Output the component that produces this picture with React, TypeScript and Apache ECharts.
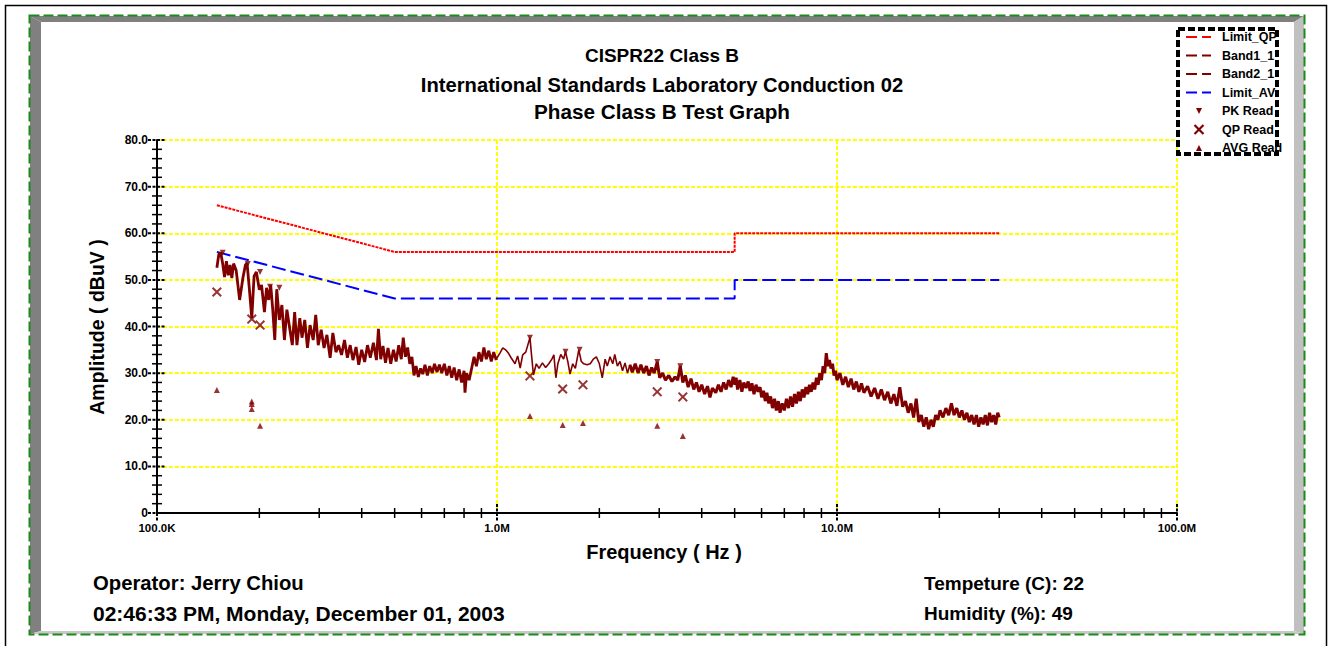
import React, { useEffect, useRef } from 'react';
import * as echarts from 'echarts';

const FONT = '"Liberation Sans", Arial, Helvetica, sans-serif';

const titleLines = ['CISPR22 Class B', 'International Standards Laboratory Conduction 02', 'Phase Class B Test Graph'];
const xAxisTitle = 'Frequency ( Hz )';
const yAxisTitle = 'Amplitude ( dBuV )';
const footerLeft = ['Operator: Jerry Chiou', '02:46:33 PM, Monday, December 01, 2003'];
const footerRight = ['Tempeture (C): 22', 'Humidity (%): 49'];

const xTickValues = [0.1, 1, 10, 100];
const xTickLabels = ['100.0K', '1.0M', '10.0M', '100.0M'];
const xMinorTicks = [0.2, 0.3, 0.4, 0.5, 0.6, 0.7, 0.8, 0.9, 2, 3, 4, 5, 6, 7, 8, 9, 20, 30, 40, 50, 60, 70, 80, 90];
const yTickValues = [0, 10, 20, 30, 40, 50, 60, 70, 80];
const yTickLabels = ['0', '10.0', '20.0', '30.0', '40.0', '50.0', '60.0', '70.0', '80.0'];
const yMinorTicks = [2, 4, 6, 8, 12, 14, 16, 18, 22, 24, 26, 28, 32, 34, 36, 38, 42, 44, 46, 48, 52, 54, 56, 58, 62, 64, 66, 68, 72, 74, 76, 78];

const legendNames = ['Limit_QP', 'Band1_1', 'Band2_1', 'Limit_AV', 'PK Read', 'QP Read', 'AVG Read'];

// frequency in MHz, amplitude in dBuV
const limitQP = [[0.15, 66], [0.5, 56], [5, 56], [5, 60], [30, 60]];
const limitAV = [[0.15, 56], [0.5, 46], [5, 46], [5, 50], [30, 50]];

const band1 = [
  [0.150, 52.6], [0.152, 55.5], [0.154, 55.8], [0.156, 53.5], [0.158, 50.6], [0.160, 54.0], [0.162, 51.0], [0.164, 53.2],
  [0.166, 50.4], [0.168, 53.5], [0.171, 52.0], [0.175, 45.7], [0.179, 50.5], [0.182, 53.2], [0.184, 53.6], [0.187, 47.9],
  [0.190, 41.8], [0.193, 50.8], [0.196, 51.7], [0.200, 47.9], [0.203, 48.9], [0.207, 43.1], [0.210, 48.3], [0.213, 45.7],
  [0.216, 48.9], [0.219, 43.6], [0.222, 37.1], [0.225, 48.0], [0.229, 41.4], [0.233, 44.6], [0.237, 37.1], [0.241, 43.6],
  [0.246, 39.3], [0.250, 36.0], [0.254, 43.1], [0.258, 36.0], [0.263, 41.8], [0.267, 37.6], [0.272, 41.4], [0.277, 35.4],
  [0.282, 40.3], [0.288, 37.1], [0.293, 42.5], [0.298, 36.0], [0.304, 39.3], [0.310, 35.4], [0.316, 38.2], [0.323, 33.3],
  [0.329, 38.6], [0.336, 34.5], [0.342, 36.0], [0.349, 33.9], [0.356, 37.1], [0.363, 33.3], [0.370, 36.0], [0.377, 32.8],
  [0.385, 35.6], [0.392, 31.8], [0.400, 35.0], [0.408, 32.4], [0.416, 36.0], [0.424, 33.3], [0.433, 36.5], [0.442, 32.8],
  [0.448, 39.5], [0.455, 33.0], [0.462, 35.8], [0.470, 32.2], [0.478, 35.4], [0.487, 32.0], [0.496, 35.0], [0.505, 32.5],
  [0.514, 36.0], [0.523, 33.0], [0.530, 37.6], [0.538, 33.5], [0.546, 35.5], [0.554, 32.0], [0.562, 33.5], [0.570, 29.5],
  [0.578, 31.5], [0.587, 29.2], [0.596, 31.0], [0.605, 29.8], [0.614, 31.8], [0.624, 29.5], [0.634, 31.5], [0.645, 30.0],
  [0.655, 32.0], [0.666, 30.2], [0.677, 31.8], [0.688, 30.0], [0.700, 32.0], [0.712, 29.5], [0.724, 31.5], [0.736, 29.0],
  [0.748, 31.2], [0.761, 28.5], [0.774, 30.8], [0.787, 28.0], [0.800, 30.5], [0.805, 25.8], [0.814, 30.0], [0.828, 28.5],
  [0.842, 31.0], [0.856, 33.5], [0.870, 31.5], [0.885, 34.5], [0.900, 32.5], [0.915, 35.5], [0.930, 33.0], [0.946, 34.8],
  [0.962, 32.5], [0.978, 34.5], [0.995, 32.8],
];

const band2Sweep = [
  [0.995, 32.8], [1.000, 33.3], [1.020, 34.3], [1.040, 35.4], [1.060, 35.0], [1.080, 34.3], [1.100, 33.3], [1.130, 32.0], [1.150, 33.7],
  [1.170, 31.1], [1.190, 33.9], [1.215, 34.5], [1.250, 37.6], [1.265, 33.5], [1.280, 29.6], [1.305, 32.0], [1.330, 31.0],
  [1.360, 32.2], [1.390, 31.2], [1.420, 32.0], [1.450, 33.0], [1.470, 33.9], [1.490, 29.0], [1.510, 32.0], [1.540, 34.0],
  [1.570, 33.0], [1.590, 34.6], [1.615, 32.5], [1.640, 29.8], [1.670, 32.0], [1.700, 31.0], [1.740, 35.0], [1.770, 32.5],
  [1.800, 32.0], [1.840, 31.8], [1.880, 32.0], [1.920, 33.0], [1.960, 33.5], [2.000, 32.0], [2.040, 29.0], [2.080, 33.0],
  [2.110, 31.5], [2.150, 33.5], [2.190, 32.0], [2.220, 34.0], [2.260, 31.5], [2.300, 32.5], [2.340, 30.5], [2.380, 32.2],
  [2.420, 30.0], [2.460, 31.8],
];

const band2Dense = [
  [2.460, 31.8], [2.500, 30.2], [2.550, 32.0], [2.600, 30.0], [2.650, 31.8], [2.700, 30.0], [2.750, 31.5],
  [2.800, 29.5], [2.850, 31.2], [2.900, 30.0], [2.960, 32.4], [3.010, 29.0], [3.070, 30.0], [3.130, 28.5], [3.200, 29.5],
  [3.270, 28.2], [3.340, 29.2], [3.400, 28.5], [3.460, 31.5], [3.520, 28.0], [3.580, 29.5], [3.650, 27.0], [3.720, 28.8],
  [3.790, 26.5], [3.860, 28.0], [3.930, 26.0], [4.000, 27.5], [4.080, 25.5], [4.160, 27.2], [4.230, 24.8], [4.300, 26.8],
  [4.400, 25.8], [4.480, 27.5], [4.560, 26.0], [4.640, 28.0], [4.720, 26.5], [4.800, 28.5], [4.880, 27.0], [4.950, 29.2],
  [5.010, 27.5], [5.050, 29.0], [5.100, 26.5], [5.180, 28.5], [5.250, 26.0], [5.320, 28.0], [5.400, 26.8], [5.480, 28.2],
  [5.550, 26.2], [5.620, 27.8], [5.700, 25.5], [5.780, 27.5], [5.860, 26.0], [5.940, 27.0], [6.000, 24.8], [6.080, 26.2],
  [6.150, 24.0], [6.220, 25.8], [6.300, 23.5], [6.380, 25.0], [6.460, 22.5], [6.550, 24.5], [6.630, 22.0], [6.720, 24.0],
  [6.800, 21.5], [6.900, 23.5], [7.000, 22.0], [7.100, 24.5], [7.200, 22.5], [7.300, 25.0], [7.400, 22.8], [7.500, 25.5],
  [7.600, 23.5], [7.700, 26.0], [7.800, 24.0], [7.900, 26.5], [8.000, 24.8], [8.100, 27.0], [8.200, 25.5], [8.300, 27.5],
  [8.400, 26.0], [8.500, 28.0], [8.600, 26.5], [8.700, 29.0], [8.800, 27.5], [8.900, 30.0], [9.000, 28.5], [9.100, 31.5],
  [9.200, 30.0], [9.300, 34.3], [9.400, 31.5], [9.500, 32.8], [9.600, 31.0], [9.700, 32.0], [9.800, 29.5], [9.900, 30.5],
  [10.0, 28.5], [10.2, 30.0], [10.4, 27.5], [10.6, 29.2], [10.8, 27.0], [11.0, 28.8], [11.2, 26.5], [11.4, 28.2],
  [11.6, 26.0], [11.8, 27.8], [12.0, 25.8], [12.3, 27.2], [12.6, 25.0], [12.9, 26.8], [13.2, 24.5], [13.5, 26.5],
  [13.8, 24.2], [14.1, 26.0], [14.4, 23.5], [14.7, 25.5], [15.0, 23.0], [15.3, 27.0], [15.6, 22.8], [15.9, 24.0],
  [16.2, 21.5], [16.5, 23.5], [16.8, 20.5], [17.1, 24.5], [17.4, 19.5], [17.7, 21.0], [18.0, 18.5], [18.3, 20.5],
  [18.6, 18.0], [18.9, 20.0], [19.2, 18.5], [19.5, 21.0], [19.8, 20.0], [20.1, 22.0], [20.5, 20.5], [20.9, 22.5],
  [21.3, 21.0], [21.7, 23.5], [22.1, 21.0], [22.5, 22.5], [22.9, 20.5], [23.3, 22.0], [23.7, 20.0], [24.1, 21.5],
  [24.5, 19.5], [24.9, 21.0], [25.3, 19.0], [25.7, 21.0], [26.1, 18.5], [26.5, 20.5], [26.9, 19.0], [27.3, 21.0],
  [27.7, 18.8], [28.1, 21.5], [28.5, 19.5], [28.9, 21.0], [29.3, 19.0], [29.7, 21.5], [30.0, 20.5],
];

const pkRead = [[0.156, 55.8], [0.185, 53.4], [0.201, 51.7], [0.215, 48.5], [0.229, 48.3], [1.25, 37.6], [1.59, 34.6], [1.75, 35.0], [2.96, 32.4], [3.46, 31.5]];
const qpRead = [[0.150, 47.4], [0.190, 41.6], [0.201, 40.3], [1.25, 29.4], [1.56, 26.6], [1.79, 27.5], [2.96, 26.0], [3.52, 24.9]];
const avgRead = [[0.150, 26.4], [0.190, 23.9], [0.190, 23.4], [0.190, 22.3], [0.201, 18.7], [1.25, 20.8], [1.56, 18.9], [1.79, 19.3], [2.96, 18.7], [3.52, 16.5]];

const DARK = '#800000';
const X_PATH = 'path://M0,1.4L1.4,0L5,3.6L8.6,0L10,1.4L6.4,5L10,8.6L8.6,10L5,6.4L1.4,10L0,8.6L3.6,5Z';

function tickLabel(values: number[], labels: string[], v: number) {
  let best = 0;
  for (let i = 1; i < values.length; i++) {
    if (Math.abs(Math.log10(values[i]) - Math.log10(v)) < Math.abs(Math.log10(values[best]) - Math.log10(v))) best = i;
  }
  return labels[best];
}

export default function App() {
  const ref = useRef<HTMLDivElement>(null);
  useEffect(() => {
    const chart = echarts.init(ref.current!, null, { renderer: 'svg' });
    const boldText = (text: string, x: number, y: number, size: number, align = 'left', extra: any = {}) => ({
      type: 'text',
      x,
      y,
      silent: true,
      ...extra,
      style: { text, fill: '#000', fontFamily: FONT, fontWeight: 'bold', fontSize: size, align, verticalAlign: 'middle' },
    });

    const graphic: any[] = [];
    // frame
    graphic.push({ type: 'rect', silent: true, shape: { x: 5.5, y: 5.5, width: 1321, height: 700 }, style: { fill: 'none', stroke: '#000', lineWidth: 1.5 } });
    graphic.push({ type: 'polygon', silent: true, shape: { points: [[30, 16], [1304, 16], [1294, 22], [41, 22]] }, style: { fill: '#808080' } });
    graphic.push({ type: 'polygon', silent: true, shape: { points: [[30, 16], [41, 22], [41, 631], [30, 634]] }, style: { fill: '#808080' } });
    graphic.push({ type: 'polygon', silent: true, shape: { points: [[1304, 16], [1304, 634], [1294, 631], [1294, 22]] }, style: { fill: '#c0c0c0' } });
    graphic.push({ type: 'polygon', silent: true, shape: { points: [[30, 634], [1304, 634], [1294, 631], [41, 631]] }, style: { fill: '#c8c8c8' } });
    graphic.push({ type: 'rect', silent: true, shape: { x: 29.5, y: 15.5, width: 1275, height: 619 }, style: { fill: 'none', stroke: '#1a8a1a', lineWidth: 2, lineDash: [10, 4] } });

    // titles
    const titleY = [55, 85, 111];
    const titleSize = [19, 20.2, 20.7];
    titleLines.forEach((t, i) => graphic.push(boldText(t, 662, titleY[i], titleSize[i], 'center')));

    // axis titles
    graphic.push(boldText(yAxisTitle, 97, 327, 19.5, 'center', { rotation: Math.PI / 2 }));
    graphic.push(boldText(xAxisTitle, 664, 552, 20, 'center'));

    // footer
    const footerLeftSize = [20.3, 21];
    footerLeft.forEach((t, i) => graphic.push(boldText(t, 93, 583 + i * 30, footerLeftSize[i])));
    footerRight.forEach((t, i) => graphic.push(boldText(t, 924, 583 + i * 30, 19)));

    // legend
    const lx = 1186;
    const legendColors = ['#ff0000', DARK, DARK, '#0000ff'];
    legendNames.forEach((name, i) => {
      const y = 37 + i * 18.5;
      if (i < 4) {
        graphic.push({ type: 'line', silent: true, shape: { x1: lx, y1: y, x2: lx + 25, y2: y }, style: { stroke: legendColors[i], lineWidth: 2, lineDash: [11, 5] } });
      } else if (i === 4) {
        graphic.push({ type: 'polygon', silent: true, shape: { points: [[1196, y - 3], [1202, y - 3], [1199, y + 3]] }, style: { fill: DARK } });
      } else if (i === 5) {
        graphic.push({ type: 'line', silent: true, shape: { x1: 1194.5, y1: y - 4.5, x2: 1203.5, y2: y + 4.5 }, style: { stroke: DARK, lineWidth: 2.2 } });
        graphic.push({ type: 'line', silent: true, shape: { x1: 1203.5, y1: y - 4.5, x2: 1194.5, y2: y + 4.5 }, style: { stroke: DARK, lineWidth: 2.2 } });
      } else {
        graphic.push({ type: 'polygon', silent: true, shape: { points: [[1199, y - 3], [1202, y + 3], [1196, y + 3]] }, style: { fill: DARK } });
      }
      graphic.push(boldText(name, 1222, y, 12.5));
    });
    graphic.push({ type: 'rect', silent: true, z: 10, shape: { x: 1178, y: 29, width: 99, height: 125 }, style: { fill: 'none', stroke: '#000', lineWidth: 4, lineDash: [7, 3] } });

    const tickStyle = { stroke: '#000', lineWidth: 1.5 };
    const option: any = {
      animation: false,
      backgroundColor: '#fff',
      graphic,
      grid: { left: 157, top: 140, width: 1020, height: 373, containLabel: false },
      xAxis: {
        type: 'log',
        logBase: 10,
        min: 0.1,
        max: 100,
        splitNumber: 3,
        axisLine: { show: true, onZero: false, lineStyle: { color: '#000', width: 2 } },
        axisTick: { show: false },
        axisLabel: {
          show: true,
          margin: 9,
          color: '#000',
          fontFamily: FONT,
          fontWeight: 'bold',
          fontSize: 11.5,
          showMinLabel: true,
          showMaxLabel: true,
          formatter: (v: number) => tickLabel(xTickValues, xTickLabels, v),
        },
        splitLine: { show: true, lineStyle: { color: '#ffff00', width: 2, type: [4, 2] } },
      },
      yAxis: {
        type: 'value',
        min: 0,
        max: 80,
        interval: 10,
        axisLine: { show: true, lineStyle: { color: '#000', width: 2 } },
        axisTick: { show: false },
        axisLabel: {
          margin: 9,
          color: '#000',
          fontFamily: FONT,
          fontWeight: 'bold',
          fontSize: 12,
          formatter: (v: number) => yTickLabels[yTickValues.indexOf(Math.round(v))] ?? '',
        },
        splitLine: { show: true, lineStyle: { color: '#ffff00', width: 2, type: [4, 2] } },
      },
      series: [
        {
          name: 'Limit_QP', type: 'line', data: limitQP, symbol: 'none', z: 3,
          lineStyle: { color: '#ff0000', width: 2, type: [3, 1] },
        },
        {
          name: 'Limit_AV', type: 'line', data: limitAV, symbol: 'none', z: 3,
          lineStyle: { color: '#0000ff', width: 2, type: [14, 5] },
        },
        {
          name: 'Band1_1', type: 'line', data: band1, symbol: 'none', z: 4,
          lineStyle: { color: DARK, width: 2.8 },
        },
        {
          name: 'Band2_1', type: 'line', data: band2Sweep, symbol: 'none', z: 4,
          lineStyle: { color: DARK, width: 1.6 },
        },
        {
          name: 'Band2_1', type: 'line', data: band2Dense, symbol: 'none', z: 4,
          lineStyle: { color: DARK, width: 3 },
        },
        {
          name: 'PK Read', type: 'scatter', data: pkRead, symbol: 'triangle', symbolRotate: 180, symbolSize: 6, z: 5,
          itemStyle: { color: DARK },
        },
        {
          name: 'QP Read', type: 'scatter', data: qpRead, symbol: X_PATH, symbolSize: 10, z: 5,
          itemStyle: { color: DARK },
        },
        {
          name: 'AVG Read', type: 'scatter', data: avgRead, symbol: 'triangle', symbolSize: 6, z: 5,
          itemStyle: { color: DARK },
        },
        {
          type: 'custom', z: 6, silent: true, clip: false,
          data: xMinorTicks.map((f) => [f, 0]),
          renderItem: (_p: any, api: any) => {
            const c = api.coord([api.value(0), 0]);
            return { type: 'line', shape: { x1: c[0], y1: c[1] - 5, x2: c[0], y2: c[1] + 5 }, style: tickStyle };
          },
        },
        {
          type: 'custom', z: 6, silent: true, clip: false,
          data: xTickValues.map((f) => [f, 0]),
          renderItem: (_p: any, api: any) => {
            const c = api.coord([api.value(0), 0]);
            return { type: 'line', shape: { x1: c[0], y1: c[1] - 9, x2: c[0], y2: c[1] + 9 }, style: { stroke: '#000', lineWidth: 2, lineDash: [3, 1.5] } };
          },
        },
        {
          type: 'custom', z: 6, silent: true, clip: false,
          data: yMinorTicks.map((v) => [0.1, v]),
          renderItem: (_p: any, api: any) => {
            const c = api.coord([0.1, api.value(1)]);
            return { type: 'line', shape: { x1: c[0] - 5, y1: c[1], x2: c[0] + 5, y2: c[1] }, style: tickStyle };
          },
        },
        {
          type: 'custom', z: 6, silent: true, clip: false,
          data: yTickValues.map((v) => [0.1, v]),
          renderItem: (_p: any, api: any) => {
            const c = api.coord([0.1, api.value(1)]);
            return { type: 'line', shape: { x1: c[0] - 9, y1: c[1], x2: c[0] + 9, y2: c[1] }, style: { stroke: '#000', lineWidth: 2, lineDash: [3, 1.5] } };
          },
        },
      ],
    };
    chart.setOption(option);
    return () => chart.dispose();
  }, []);
  return <div ref={ref} style={{ position: 'fixed', left: 0, top: 0, width: 1332, height: 646 }} />;
}
